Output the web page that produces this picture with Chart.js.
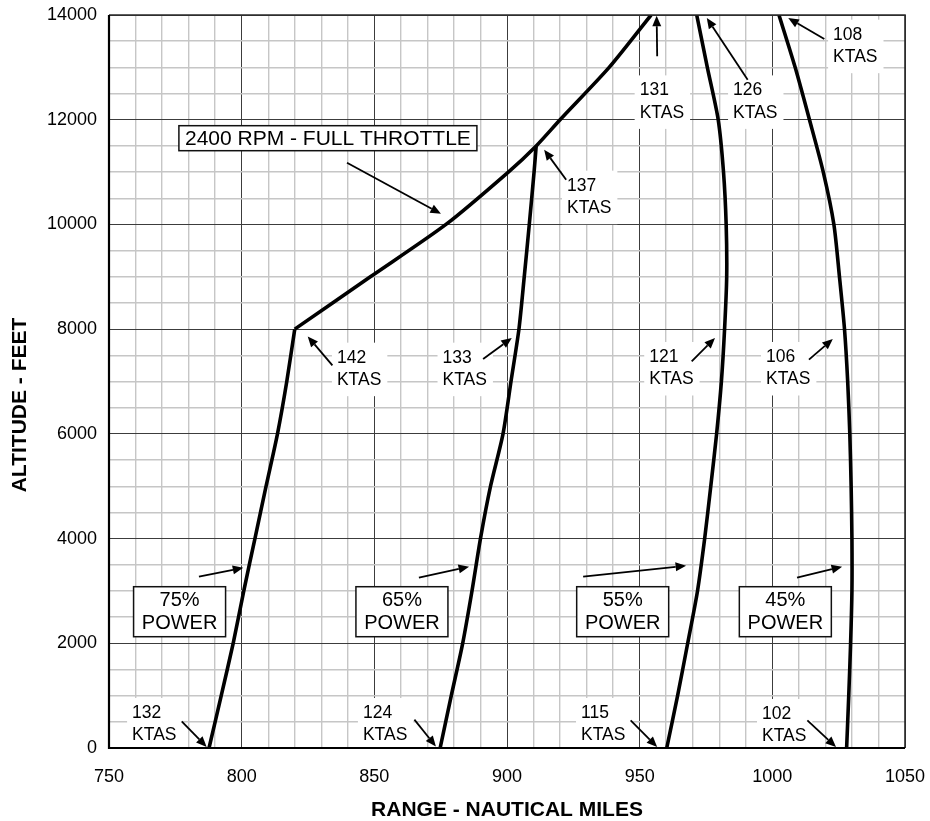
<!DOCTYPE html>
<html>
<head>
<meta charset="utf-8">
<script src="https://cdn.jsdelivr.net/npm/chart.js@4.4.1/dist/chart.umd.min.js"></script>
<style>
  html, body { margin: 0; padding: 0; background: #ffffff; }
  #wrap { width: 930px; height: 821px; }
</style>
</head>
<body>
<div id="wrap"><canvas id="rangeChart" width="930" height="821"></canvas></div>
<script>
// Range profile: altitude (ft) vs. range (nautical miles) for each power setting.
const alt75 = [0, 1000, 2000, 3000, 4000, 5000, 6000, 7000, 8000];
const range75 = [787.7, 792.3, 796.8, 800.8, 805.0, 809.2, 813.5, 817.0, 820.0];

const altFullThrottle = [8000, 9000, 10000, 11000, 11500, 12000, 13000, 14000];
const rangeFullThrottle = [820.0, 848.5, 877.0, 900.5, 911.0, 920.0, 938.5, 954.3];

const alt65 = [0, 1000, 2000, 3000, 4000, 5000, 6000, 7000, 8000, 9000, 10000, 11000, 11500];
const range65 = [874.8, 879.0, 883.3, 886.8, 890.0, 893.8, 898.5, 901.5, 904.5, 906.5, 908.4, 910.2, 911.0];

const alt55 = [0, 1000, 2000, 3000, 4000, 5000, 6000, 7000, 8000, 9000, 10000, 11000, 12000, 13000, 14000];
const range55 = [960.2, 964.3, 968.1, 971.8, 974.5, 976.8, 979.0, 980.8, 982.0, 982.8, 982.6, 981.6, 979.6, 975.5, 971.5];

const alt45 = [0, 1000, 2000, 3000, 4000, 5000, 6000, 7000, 8000, 9000, 10000, 11000, 12000, 13000, 14000];
const range45 = [1028.0, 1028.8, 1029.5, 1030.0, 1030.0, 1029.7, 1029.2, 1028.4, 1027.2, 1025.3, 1023.2, 1019.2, 1014.0, 1008.6, 1002.5];

// Axis extents and tick spacing
const rangeMin = 750, rangeMax = 1050, rangeMajor = 50, rangeMinor = 10;
const altMin = 0, altMax = 14000, altMajor = 2000, altMinor = 500;

// True airspeed callouts: text anchor and arrow (range nm, altitude ft)
const speedNotes = [
  { lines: ['132', 'KTAS'], at: [758.7, 669],   from: [777.4, 508],   to: [786.8, 19] },
  { lines: ['124', 'KTAS'], at: [845.7, 669],   from: [865.1, 541],   to: [873.2, 31] },
  { lines: ['115', 'KTAS'], at: [927.9, 669],   from: [946.6, 527],   to: [956.6, 19] },
  { lines: ['102', 'KTAS'], at: [996.1, 649],   from: [1013.2, 527],  to: [1024.0, 19] },
  { lines: ['142', 'KTAS'], at: [835.9, 7455],  from: [834.2, 7308],  to: [824.9, 7861] },
  { lines: ['133', 'KTAS'], at: [875.7, 7455],  from: [891.0, 7430],  to: [901.8, 7831] },
  { lines: ['121', 'KTAS'], at: [953.6, 7468],  from: [969.6, 7384],  to: [978.4, 7831] },
  { lines: ['106', 'KTAS'], at: [997.6, 7468],  from: [1013.8, 7417], to: [1022.8, 7812] },
  { lines: ['137', 'KTAS'], at: [922.6, 10740], from: [922.3, 10855], to: [914.0, 11428] },
  { lines: ['131', 'KTAS'], at: [950.0, 12560], from: [956.6, 13210], to: [956.4, 13985] },
  { lines: ['126', 'KTAS'], at: [985.2, 12560], from: [990.7, 12765], to: [975.3, 13943] },
  { lines: ['108', 'KTAS'], at: [1022.9, 13624], from: [1019.6, 13542], to: [1006.0, 13943] }
];

// Power setting boxes: box centre and pointer arrow
const powerNotes = [
  { lines: ['75%', 'POWER'], at: [776.6, 2603],  from: [783.9, 3271],  to: [800.6, 3444] },
  { lines: ['65%', 'POWER'], at: [860.4, 2603],  from: [866.8, 3253],  to: [885.7, 3463] },
  { lines: ['55%', 'POWER'], at: [943.6, 2603],  from: [928.7, 3272],  to: [967.5, 3482] },
  { lines: ['45%', 'POWER'], at: [1004.9, 2603], from: [1009.3, 3253], to: [1026.3, 3463] }
];

const throttleNote = { text: '2400 RPM - FULL THROTTLE', at: [832.5, 11647], from: [839.7, 11179], to: [875.1, 10205] };

const yTitle = 'ALTITUDE - FEET';

const FONT = '"Liberation Sans", Arial, Helvetica, sans-serif';
const MAJOR_GRID = '#3c3c3c';
const MINOR_GRID = '#c6c6c6';

function toPoints(xs, ys) {
  return xs.map((x, i) => ({ x: x, y: ys[i] }));
}

function curve(label, xs, ys) {
  return {
    label: label,
    data: toPoints(xs, ys),
    showLine: true,
    borderColor: '#000000',
    backgroundColor: '#000000',
    borderWidth: 3.6,
    pointRadius: 0,
    pointHoverRadius: 0,
    tension: 0.25,
    borderCapStyle: 'butt',
    borderJoinStyle: 'miter'
  };
}

function drawArrow(ctx, x1, y1, x2, y2) {
  const ang = Math.atan2(y2 - y1, x2 - x1);
  const head = 10.5, half = 4.5;
  const bx = x2 - head * Math.cos(ang);
  const by = y2 - head * Math.sin(ang);
  ctx.beginPath();
  ctx.moveTo(x1, y1);
  ctx.lineTo(bx, by);
  ctx.lineWidth = 1.8;
  ctx.strokeStyle = '#000';
  ctx.stroke();
  ctx.beginPath();
  ctx.moveTo(x2, y2);
  ctx.lineTo(bx + half * Math.sin(ang), by - half * Math.cos(ang));
  ctx.lineTo(bx - half * Math.sin(ang), by + half * Math.cos(ang));
  ctx.closePath();
  ctx.fillStyle = '#000';
  ctx.fill();
}

// Callouts, boxes and arrows drawn in data coordinates through the chart scales
const notesPlugin = {
  id: 'chartNotes',
  beforeDatasetsDraw(chart) {
    const { ctx, scales } = chart;
    const px = v => scales.x.getPixelForValue(v);
    const py = v => scales.y.getPixelForValue(v);
    ctx.save();

    // airspeed callouts with white backing
    ctx.font = '17.5px ' + FONT;
    ctx.textBaseline = 'middle';
    ctx.textAlign = 'left';
    speedNotes.forEach(n => {
      const x = px(n.at[0]);
      const y1 = py(n.at[1]);
      const y2 = y1 + 22.5;
      const w = Math.max(...n.lines.map(t => ctx.measureText(t).width));
      ctx.fillStyle = '#ffffff';
      ctx.fillRect(x - 5, y1 - 15, w + 11, y2 - y1 + 31);
    });
    speedNotes.forEach(n => {
      const x = px(n.at[0]);
      const y1 = py(n.at[1]);
      ctx.fillStyle = '#000';
      ctx.fillText(n.lines[0], x, y1);
      ctx.fillText(n.lines[1], x, y1 + 22.5);
      drawArrow(ctx, px(n.from[0]), py(n.from[1]), px(n.to[0]), py(n.to[1]));
    });

    // power setting boxes
    ctx.font = '20px ' + FONT;
    ctx.textAlign = 'center';
    powerNotes.forEach(n => {
      const cx = px(n.at[0]);
      const cy = py(n.at[1]);
      const bw = 92, bh = 50;
      ctx.fillStyle = '#ffffff';
      ctx.fillRect(cx - bw / 2, cy - bh / 2, bw, bh);
      ctx.lineWidth = 1.5;
      ctx.strokeStyle = '#111';
      ctx.strokeRect(cx - bw / 2, cy - bh / 2, bw, bh);
      ctx.fillStyle = '#000';
      ctx.fillText(n.lines[0], cx, cy - 11);
      ctx.fillText(n.lines[1], cx, cy + 12);
      drawArrow(ctx, px(n.from[0]), py(n.from[1]), px(n.to[0]), py(n.to[1]));
    });

    // full throttle note
    {
      const cx = px(throttleNote.at[0]);
      const cy = py(throttleNote.at[1]);
      const bw = 298, bh = 25;
      ctx.fillStyle = '#ffffff';
      ctx.fillRect(cx - bw / 2, cy - bh / 2, bw, bh);
      ctx.lineWidth = 1.5;
      ctx.strokeStyle = '#111';
      ctx.strokeRect(cx - bw / 2, cy - bh / 2, bw, bh);
      ctx.font = '21px ' + FONT;
      ctx.fillStyle = '#000';
      ctx.textAlign = 'center';
      ctx.fillText(throttleNote.text, cx, cy + 1);
      drawArrow(ctx, px(throttleNote.from[0]), py(throttleNote.from[1]), px(throttleNote.to[0]), py(throttleNote.to[1]));
    }
    ctx.restore();
  },
  afterDatasetsDraw(chart) {
    const { ctx, chartArea: a } = chart;
    ctx.save();
    ctx.strokeStyle = '#2a2a2a';
    ctx.lineWidth = 1.6;
    ctx.beginPath();
    ctx.moveTo(a.left, a.top);
    ctx.lineTo(a.right, a.top);
    ctx.lineTo(a.right, a.bottom);
    ctx.stroke();
    ctx.strokeStyle = '#000';
    ctx.lineWidth = 2.2;
    ctx.beginPath();
    ctx.moveTo(a.left, a.top);
    ctx.lineTo(a.left, a.bottom);
    ctx.lineTo(a.right, a.bottom);
    ctx.stroke();

    // vertical axis title
    ctx.translate(20, 405);
    ctx.rotate(-Math.PI / 2);
    ctx.font = 'bold 21px ' + FONT;
    ctx.fillStyle = '#000';
    ctx.textAlign = 'center';
    ctx.textBaseline = 'middle';
    ctx.fillText(yTitle, 0, 0);
    ctx.restore();
  }
};

const gridFor = major => ({
  drawTicks: false,
  color: c => (c.tick && Math.abs(c.tick.value % major) < 1e-6) ? MAJOR_GRID : MINOR_GRID,
  lineWidth: c => (c.tick && Math.abs(c.tick.value % major) < 1e-6) ? 1 : 1.4
});

new Chart(document.getElementById('rangeChart'), {
  type: 'scatter',
  data: {
    datasets: [
      curve('75% POWER', range75, alt75),
      curve('2400 RPM - FULL THROTTLE', rangeFullThrottle, altFullThrottle),
      curve('65% POWER', range65, alt65),
      curve('55% POWER', range55, alt55),
      curve('45% POWER', range45, alt45)
    ]
  },
  plugins: [notesPlugin],
  options: {
    responsive: false,
    animation: false,
    devicePixelRatio: 1,
    layout: { padding: { top: 15, right: 25, left: 0, bottom: 0 } },
    plugins: {
      legend: { display: false },
      tooltip: { enabled: false }
    },
    scales: {
      x: {
        type: 'linear',
        min: rangeMin,
        max: rangeMax,
        border: { display: false },
        grid: gridFor(rangeMajor),
        ticks: {
          stepSize: rangeMinor,
          autoSkip: false,
          maxRotation: 0,
          padding: 18,
          color: '#000',
          font: { family: FONT, size: 18 },
          callback: v => (v % rangeMajor === 0 ? String(v) : '')
        },
        title: {
          display: true,
          text: 'RANGE - NAUTICAL MILES',
          color: '#000',
          font: { family: FONT, size: 21, weight: 'bold', lineHeight: 1 },
          padding: { top: 0, bottom: 0 }
        },
        afterFit: s => { s.height = 73; s.paddingLeft = 0; s.paddingRight = 0; }
      },
      y: {
        type: 'linear',
        min: altMin,
        max: altMax,
        border: { display: false },
        grid: gridFor(altMajor),
        ticks: {
          stepSize: altMinor,
          autoSkip: false,
          padding: 12,
          color: '#000',
          font: { family: FONT, size: 18 },
          callback: v => (v % altMajor === 0 ? String(v) : '')
        },
        title: { display: false },
        afterFit: s => { s.width = 109; s.paddingTop = 0; s.paddingBottom = 0; }
      }
    }
  }
});
</script>
</body>
</html>
